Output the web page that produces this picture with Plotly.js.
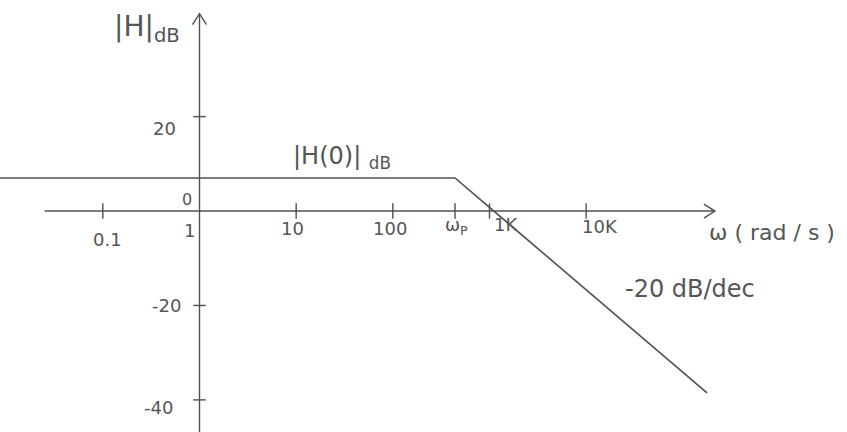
<!DOCTYPE html>
<html>
<head>
<meta charset="utf-8">
<script src="https://cdn.plot.ly/plotly-3.0.1.min.js"></script>
<style>
  html, body { margin: 0; padding: 0; background: #ffffff; }
  #plot { width: 847px; height: 432px; }
</style>
</head>
<body>
<div id="plot"></div>
<script>
// Asymptotic Bode magnitude plot of a first-order low-pass
const omega = [0.0086, 440, 178000];          // rad/s : start, corner (wp), end
const magDb = [7, 7, -38.5];                    // |H| in dB at those frequencies
const xTickVals = [0.1, 10, 100, 440, 1000, 10000];
const xTickText = ['0.1', '10', '100', 'ω<sub>P</sub>', '1K', '10K'];
const yTickVals = [20, -20, -40];
const yTickText = ['20', '-20', '-40'];

const ink = '#505050';
const font = { family: 'DejaVu Sans, Noto Sans, sans-serif', color: '#555555' };
const f = (size) => Object.assign({ size: size }, font);

// axis extents (data units)
const xAxisFrom = 0.025, xAxisTo = 215000;
const yAxisFrom = -47, yAxisTo = 41.8;

const traces = [
  { // x axis
    x: [xAxisFrom, xAxisTo], y: [0, 0], mode: 'lines', type: 'scatter',
    line: { color: ink, width: 1.4 }, hoverinfo: 'skip'
  },
  { // y axis
    x: [1, 1], y: [yAxisFrom, yAxisTo], mode: 'lines', type: 'scatter',
    line: { color: ink, width: 1.4 }, hoverinfo: 'skip'
  },
  { // magnitude asymptotes
    x: omega, y: magDb, mode: 'lines', type: 'scatter',
    line: { color: ink, width: 1.6 }, hoverinfo: 'skip'
  },
  {
    x: xTickVals, y: xTickVals.map(() => 0), mode: 'markers', type: 'scatter',
    marker: { symbol: 'line-ns', size: 11, line: { color: ink, width: 1.4 } },
    hoverinfo: 'skip'
  },
  {
    x: yTickVals.map(() => 1), y: yTickVals, mode: 'markers', type: 'scatter',
    marker: { symbol: 'line-ew', size: 9, line: { color: ink, width: 1.4 } },
    hoverinfo: 'skip'
  }
];

// open arrow heads at the axis ends
const shapes = [
  { type: 'path', xref: 'x', yref: 'y', xsizemode: 'pixel', ysizemode: 'pixel',
    xanchor: xAxisTo, yanchor: 0, path: 'M -11 7 L 0 0 L -11 -7',
    line: { color: ink, width: 1.4 } },
  { type: 'path', xref: 'x', yref: 'y', xsizemode: 'pixel', ysizemode: 'pixel',
    xanchor: 1, yanchor: yAxisTo, path: 'M -7 -11 L 0 0 L 7 -11',
    line: { color: ink, width: 1.4 } }
];

const ann = [];
// x tick labels: [xshift, yshift]
const xLabShift = [[5, -28], [-4, -17], [-3, -17], [1, -15], [17, -13], [14, -15]];
xTickVals.forEach((v, i) => {
  ann.push({ x: Math.log10(v), y: 0, xref: 'x', yref: 'y', text: xTickText[i],
    showarrow: false, xshift: xLabShift[i][0], yshift: xLabShift[i][1], font: f(18) });
});
ann.push({ x: 0, y: 0, xref: 'x', yref: 'y', text: '1', showarrow: false,
  xshift: -10, yshift: -19, font: f(18) });
ann.push({ x: 0, y: 0, xref: 'x', yref: 'y', text: '0', showarrow: false,
  xshift: -13, yshift: 12, font: f(16) });

// y tick labels
const yLabShift = [[-22, -12], [-17, 0], [-25, -8]];
yTickVals.forEach((v, i) => {
  ann.push({ x: 0, y: v, xref: 'x', yref: 'y', text: yTickText[i],
    showarrow: false, xanchor: 'right', xshift: yLabShift[i][0], yshift: yLabShift[i][1],
    font: f(18) });
});

// axis titles and annotations
ann.push({ x: 0, y: yAxisTo, xref: 'x', yref: 'y', text: '|H|<sub>dB</sub>',
  showarrow: false, xanchor: 'right', yanchor: 'top', xshift: -18, yshift: 6,
  font: f(28) });
ann.push({ x: Math.log10(xAxisTo), y: 0, xref: 'x', yref: 'y', text: 'ω ( rad / s )',
  showarrow: false, xanchor: 'left', xshift: -8, yshift: -21, font: f(22) });
ann.push({ x: Math.log10(30), y: magDb[0], xref: 'x', yref: 'y', text: '|H(0)| <sub>dB</sub>',
  showarrow: false, yanchor: 'bottom', xshift: 0, yshift: 3, font: f(24) });
ann.push({ x: Math.log10(30000), y: -16.5, xref: 'x', yref: 'y', text: '-20 dB/dec',
  showarrow: false, xanchor: 'left', xshift: -9, font: f(24) });

const pxPerDec = 96.66, originPx = 199.5, W = 847;
const layout = {
  width: 847, height: 432,
  margin: { l: 0, r: 0, t: 0, b: 0 },
  paper_bgcolor: '#ffffff', plot_bgcolor: '#ffffff',
  showlegend: false,
  xaxis: { type: 'log', range: [-originPx / pxPerDec, (W - originPx) / pxPerDec],
    visible: false, fixedrange: true },
  yaxis: { range: [-46.8, 44.7], visible: false, fixedrange: true },
  shapes: shapes,
  annotations: ann
};

Plotly.newPlot('plot', traces, layout, { staticPlot: true });
</script>
</body>
</html>
